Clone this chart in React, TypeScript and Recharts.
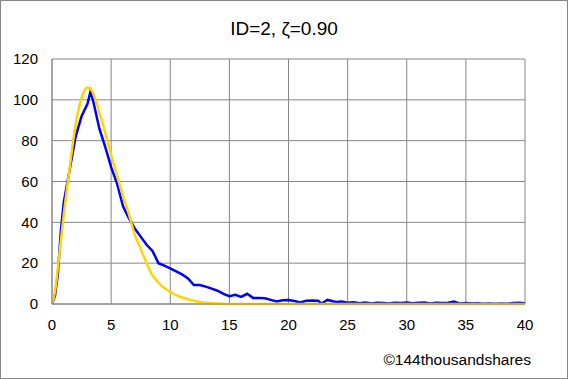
import { CartesianGrid, Line, LineChart, XAxis, YAxis } from "recharts";

const obsX = [
  0, 0.25, 0.5, 0.75, 1, 1.5, 2, 2.5, 3, 3.25, 3.5, 4, 4.5, 5, 5.5, 6, 6.5, 7, 7.5, 8,
  8.5, 9, 9.5, 10, 10.5, 11, 11.5, 12, 12.5, 13, 13.5, 14, 14.5, 15, 15.5, 16, 16.5, 17,
  17.5, 18, 18.5, 19, 19.5, 20, 20.5, 21, 21.5, 22, 22.5, 22.8, 23.3, 24, 24.5, 25, 25.5,
  26, 26.5, 27, 27.5, 28, 28.5, 29, 29.5, 30, 30.5, 31, 31.5, 32, 32.5, 33, 33.5, 34,
  34.5, 35, 35.5, 36, 36.5, 37, 37.5, 38, 38.5, 39, 39.5, 40,
];
const obsY = [
  0, 4, 15, 36, 50, 66, 82, 92, 98, 104, 99, 86, 77, 67, 59, 48, 42, 37, 33, 29,
  26, 20, 18.8, 17.5, 16, 14.5, 12.5, 9.3, 9.3, 8.5, 7.5, 6.5, 5, 3.8, 4.5, 3.5, 5, 3,
  3, 2.8, 2, 1.2, 1.8, 2, 1.5, 0.8, 1.6, 1.7, 1.6, 0.2, 2, 1, 1.2, 0.6, 0.8,
  0.4, 0.7, 0.3, 0.6, 0.5, 0.2, 0.6, 0.5, 0.7, 0.4, 0.6, 0.7, 0.3, 0.6, 0.5, 0.6, 1.2,
  0.2, 0.5, 0.3, 0.4, 0.1, 0.2, 0.1, 0.3, 0.1, 0.5, 0.6, 0.4,
];

// fitted curve (yellow)
const fitX = [
  0, 0.25, 0.5, 0.75, 1, 1.5, 2, 2.5, 3, 3.5, 4, 4.5, 5, 5.5, 6, 6.5, 7, 7.5, 8, 8.5, 9,
  9.5, 10, 10.5, 11, 11.5, 12, 12.5, 13, 13.5, 14, 14.5, 15, 20, 25, 30, 35, 40,
];
const fitY = [
  0, 6, 18, 31, 44, 67, 88, 101, 106, 103, 94, 84, 73, 63, 53, 44, 34, 27, 20, 14, 10.5,
  7.8, 6, 4.3, 3.2, 2.4, 1.6, 1, 0.6, 0.35, 0.2, 0.1, 0, 0, 0, 0, 0, 0,
];

const xTicks = [0, 5, 10, 15, 20, 25, 30, 35, 40];
const yTicks = [0, 20, 40, 60, 80, 100, 120];

const obsData = obsX.map((x, i) => ({ x, y: obsY[i] }));
const fitData = fitX.map((x, i) => ({ x, y: fitY[i] }));

const font = "'Liberation Sans', Arial, sans-serif";
const grid = "#868686";

export default function App() {
  return (
    <div
      style={{
        position: "absolute",
        top: 0,
        left: 0,
        width: 568,
        height: 379,
        boxSizing: "border-box",
        border: `1px solid ${grid}`,
        background: "#fff",
        fontFamily: font,
      }}
    >
      <div
        style={{
          position: "absolute",
          top: 17,
          left: 0,
          width: 566,
          textAlign: "center",
          fontSize: 19,
          color: "#000",
        }}
      >
        ID=2, ζ=0.90
      </div>
      <LineChart
        width={566}
        height={377}
        margin={{ top: 58, right: 42, bottom: 0, left: 0 }}
        style={{ position: "absolute", top: 0, left: 0 }}
      >
        <CartesianGrid stroke={grid} strokeWidth={1} />
        <XAxis
          type="number"
          dataKey="x"
          domain={[0, 40]}
          ticks={xTicks}
          allowDataOverflow
          stroke={grid}
          tickSize={0}
          tickMargin={15}
          tick={{ fill: "#000", fontSize: 15, fontFamily: font }}
          height={74}
        />
        <YAxis
          type="number"
          domain={[0, 120]}
          ticks={yTicks}
          stroke={grid}
          tickSize={0}
          tickMargin={14}
          width={51}
          tick={{ fill: "#000", fontSize: 15, fontFamily: font }}
        />
        <Line
          data={obsData}
          dataKey="y"
          type="linear"
          stroke="#0000FF"
          strokeWidth={2.5}
          dot={false}
          isAnimationActive={false}
        />
        <Line
          data={fitData}
          dataKey="y"
          type="monotone"
          stroke="#FFD400"
          strokeWidth={2.5}
          dot={false}
          isAnimationActive={false}
        />
      </LineChart>
      <div
        style={{
          position: "absolute",
          top: 350,
          right: 36,
          fontSize: 15.5,
          color: "#000",
        }}
      >
        ©144thousandshares
      </div>
    </div>
  );
}
